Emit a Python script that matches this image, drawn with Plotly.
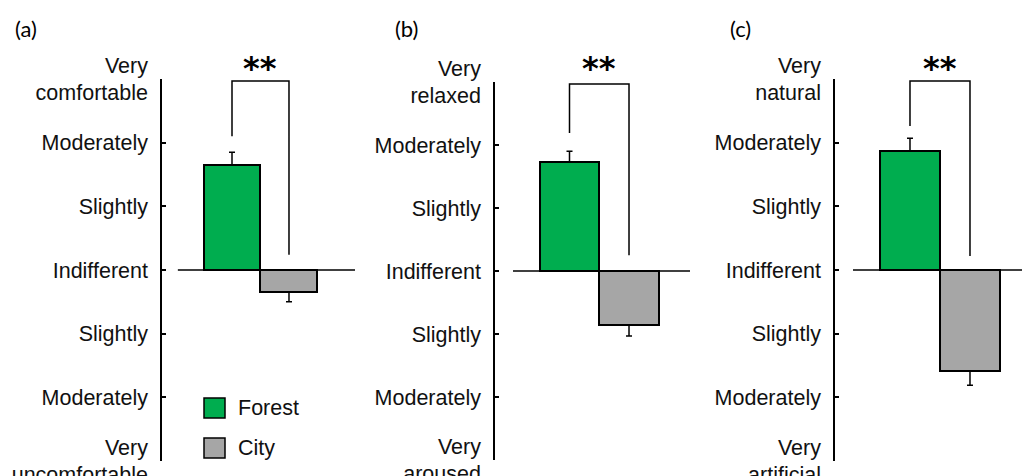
import plotly.graph_objects as go

W, H = 1022, 476

# ---- data ----
panels = ["(a)", "(b)", "(c)"]
groups = ["Forest", "City"]
forest_mean = [1.65, 1.73, 1.87]
forest_err = [0.20, 0.17, 0.20]
city_mean = [-0.34, -0.86, -1.59]
city_err = [0.16, 0.17, 0.22]
tick_vals = [-3, -2, -1, 0, 1, 2, 3]
tick_text = [
    ["Very<br>uncomfortable", "Moderately", "Slightly", "Indifferent", "Slightly", "Moderately", "Very<br>comfortable"],
    ["Very<br>aroused", "Moderately", "Slightly", "Indifferent", "Slightly", "Moderately", "Very<br>relaxed"],
    ["Very<br>artificial", "Moderately", "Slightly", "Indifferent", "Slightly", "Moderately", "Very<br>natural"],
]
significance = ["**", "**", "**"]
# bracket heights (data units): left leg bottom, top, right leg bottom
bracket_left = [2.10, 2.19, 2.26]
bracket_top = [2.97, 2.97, 2.97]
bracket_right = [0.24, 0.25, 0.22]

# ---- layout geometry (pixels) ----
x_dom_px = [(162, 355), (495, 690), (835, 1022)]
x_ranges = [(-1.228, 2.158), (-1.252, 2.025), (-1.25, 1.867)]
y_dom_px = [(79, 461), (82, 460), (79, 461)]
label_px = [(26, 28), (406, 28), (740, 28)]
star_py = 68

GREEN = "#00AD4F"
GRAY = "#A6A6A6"
ARIAL = "Liberation Sans, Arial, sans-serif"
TICKFONT = dict(family=ARIAL, size=21.5, color="#111111")
CALFONT = "Lato, Open Sans, sans-serif"


def fx(px):
    return px / W


def fy(py):
    return 1 - py / H


fig = go.Figure()
shapes = []
annotations = []

for i in range(3):
    xa = "x" if i == 0 else f"x{i+1}"
    ya = "y" if i == 0 else f"y{i+1}"
    fig.add_trace(go.Bar(
        x=[0], y=[forest_mean[i]], width=[1], name=groups[0], xaxis=xa, yaxis=ya,
        marker=dict(color=GREEN, line=dict(color="black", width=2)), showlegend=False,
        error_y=dict(type="data", symmetric=False, array=[forest_err[i]], arrayminus=[0],
                     color="black", thickness=1.5, width=3),
    ))
    fig.add_trace(go.Bar(
        x=[1], y=[city_mean[i]], width=[1], name=groups[1], xaxis=xa, yaxis=ya,
        marker=dict(color=GRAY, line=dict(color="black", width=2)), showlegend=False,
        error_y=dict(type="data", symmetric=False, array=[0], arrayminus=[city_err[i]],
                     color="black", thickness=1.5, width=3),
    ))

    xd = x_dom_px[i]
    yd = y_dom_px[i]
    sfx = "" if i == 0 else str(i + 1)
    fig.layout["xaxis" + sfx] = dict(domain=[fx(xd[0]), fx(xd[1])], range=list(x_ranges[i]),
                                     visible=False, anchor=ya, fixedrange=True, automargin=False)
    fig.layout["yaxis" + sfx] = dict(domain=[fy(yd[1]), fy(yd[0])], range=[-3, 3], anchor=xa,
                                     tickmode="array", tickvals=tick_vals, ticktext=tick_text[i],
                                     ticks="inside", ticklen=4, tickwidth=1.5, tickcolor="black",
                                     showline=True, linecolor="black", linewidth=1.5,
                                     showgrid=False, zeroline=False, tickfont=TICKFONT,
                                     ticklabelstandoff=8, ticklabeloverflow="allow",
                                     fixedrange=True, automargin=False)

    # zero line
    shapes.append(dict(type="line", xref=xa, yref=ya, x0=-0.95, x1=x_ranges[i][1], y0=0, y1=0,
                       line=dict(color="black", width=1.5)))
    # significance bracket
    shapes.append(dict(type="path", xref=xa, yref=ya,
                       path=f"M 0,{bracket_left[i]} L 0,{bracket_top[i]} L 1,{bracket_top[i]} L 1,{bracket_right[i]}",
                       line=dict(color="black", width=1.5)))
    annotations.append(dict(xref=xa, yref="paper", x=0.5, y=fy(star_py),
                            text="<b>" + significance[i] + "</b>", showarrow=False,
                            font=dict(family="DejaVu Sans, sans-serif", size=32, color="black"),
                            yanchor="middle"))
    # panel label
    annotations.append(dict(xref="paper", yref="paper", x=fx(label_px[i][0]), y=fy(label_px[i][1]),
                            text=panels[i], showarrow=False, xanchor="center", yanchor="middle",
                            font=dict(family=CALFONT, size=22, color="black")))

# manual legend
leg_colors = [GREEN, GRAY]
leg_rows = [408, 448]
for name, col, cy in zip(groups, leg_colors, leg_rows):
    shapes.append(dict(type="rect", xref="paper", yref="paper", x0=fx(204), x1=fx(225),
                       y0=fy(cy + 10), y1=fy(cy - 10), fillcolor=col,
                       line=dict(color="black", width=1.5)))
    annotations.append(dict(xref="paper", yref="paper", x=fx(236), y=fy(cy), text=name,
                            showarrow=False, xanchor="left", yanchor="middle",
                            font=dict(family=ARIAL, size=21.5, color="#111111")))

fig.update_layout(
    template="none",
    width=W, height=H, margin=dict(l=0, r=0, t=0, b=0, autoexpand=False),
    paper_bgcolor="white", plot_bgcolor="white",
    barmode="overlay", bargap=0, showlegend=False,
    shapes=shapes, annotations=annotations,
)

fig.write_html("out.html", config={"displayModeBar": False},
               post_script="document.body.style.margin='0';document.body.style.overflow='hidden';")
